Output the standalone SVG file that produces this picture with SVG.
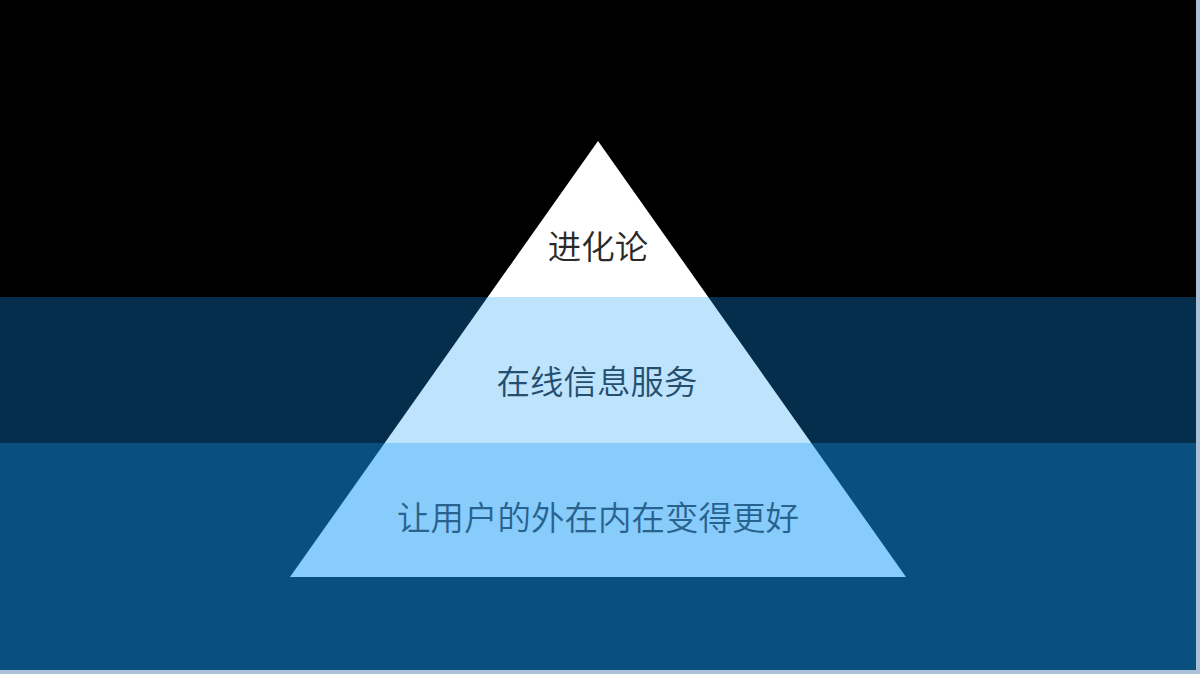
<svg xmlns="http://www.w3.org/2000/svg" width="1200" height="674" viewBox="0 0 1200 674">
<style>
.lbl{font-family:"Noto Sans CJK SC","Liberation Sans",sans-serif;font-size:33.5px;font-weight:350;text-anchor:middle}
</style>
<defs>
<clipPath id="tri"><polygon points="598,141 290,577 906,577"/></clipPath>
</defs>
<g id="background">
<rect x="0" y="0" width="1200" height="674" fill="#a9c1d9"/>
<rect x="0" y="0" width="1196" height="297" fill="#000000"/>
<rect x="0" y="297" width="1196" height="146" fill="#052e4d"/>
<rect x="0" y="443" width="1196" height="227" fill="#09507f"/>
</g>
<g id="pyramid" clip-path="url(#tri)">
<rect id="level-top" x="280" y="130" width="640" height="167" fill="#ffffff"/>
<rect id="level-middle" x="280" y="297" width="640" height="146" fill="#bde3fd"/>
<rect id="level-bottom" x="280" y="443" width="640" height="140" fill="#88ccfb"/>
</g>
<g id="labels">
<text class="lbl" x="598" y="259" fill="#2a2a2a">进化论</text>
<text class="lbl" x="597" y="394" fill="#244e6e">在线信息服务</text>
<text class="lbl" x="598" y="530" fill="#28628f">让用户的外在内在变得更好</text>
</g>
</svg>
